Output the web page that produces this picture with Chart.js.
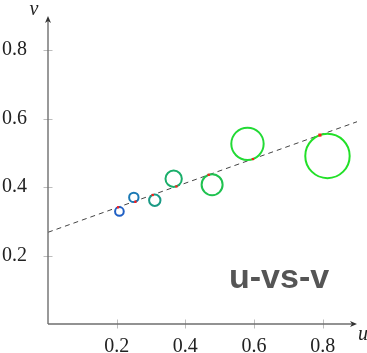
<!DOCTYPE html>
<html>
<head>
<meta charset="utf-8">
<script src="https://cdn.jsdelivr.net/npm/chart.js@4.4.1/dist/chart.umd.min.js"></script>
<style>
html,body{margin:0;padding:0;background:#fff;}
#wrap{width:367px;height:353px;position:relative;}
</style>
</head>
<body>
<div id="wrap"><canvas id="c" width="367" height="353"></canvas></div>
<script>
// Data
const uVals = [0.208, 0.250, 0.311, 0.366, 0.478, 0.581, 0.814];
const vVals = [0.329, 0.370, 0.3615, 0.4245, 0.407, 0.5265, 0.491];
// points on the dashed line nearest each sample (red dots)
const footU = [0.204, 0.2545, 0.305, 0.374, 0.468, 0.597, 0.792];
const footV = [0.341, 0.357, 0.377, 0.402, 0.436, 0.482, 0.552];
// dashed fitted line end points
const fitU = [0, 0.9];
const fitV = [0.268, 0.591];
const tickVals = [0.2, 0.4, 0.6, 0.8];
const circleColors = ['#1f5fc4','#1b79b4','#1a9a85','#1aae6a','#1fc24f','#22da35','#22e028'];
const axisNames = ['u', 'v'];
const tagText = 'u-vs-v';

const pts = uVals.map((u, i) => ({x: u, y: vVals[i]}));
const feet = footU.map((u, i) => ({x: u, y: footV[i]}));
const fit = fitU.map((u, i) => ({x: u, y: fitV[i]}));

function residualRadius(ctx) {
  const ch = ctx.chart, i = ctx.dataIndex;
  const xs = ch.scales.x, ys = ch.scales.y;
  if (!xs || !ys) return 3;
  const dx = xs.getPixelForValue(uVals[i]) - xs.getPixelForValue(footU[i]);
  const dy = ys.getPixelForValue(vVals[i]) - ys.getPixelForValue(footV[i]);
  return Math.hypot(dx, dy);
}

const serif = '"Liberation Serif", "DejaVu Serif", serif';

const axesPlugin = {
  id: 'axesPlugin',
  afterDatasetsDraw(chart) {
    const {ctx, scales: {x, y}} = chart;
    const x0 = x.getPixelForValue(0), y0 = y.getPixelForValue(0);
    const xEnd = x.getPixelForValue(x.max), yEnd = y.getPixelForValue(y.max);
    ctx.save();
    // tick marks
    ctx.strokeStyle = '#bdbdbd';
    ctx.lineWidth = 1;
    tickVals.forEach(t => {
      const px = Math.round(x.getPixelForValue(t)) + 0.5;
      ctx.beginPath(); ctx.moveTo(px, y0 - 4.5); ctx.lineTo(px, y0 + 4.5); ctx.stroke();
      const py = Math.round(y.getPixelForValue(t)) + 0.5;
      ctx.beginPath(); ctx.moveTo(x0 - 4.5, py); ctx.lineTo(x0 + 4.5, py); ctx.stroke();
    });
    // axis lines
    ctx.strokeStyle = '#6e6e6e';
    ctx.fillStyle = '#333';
    ctx.lineWidth = 1.4;
    ctx.beginPath(); ctx.moveTo(x0, y0); ctx.lineTo(xEnd - 3, y0); ctx.stroke();
    ctx.beginPath(); ctx.moveTo(x0, y0); ctx.lineTo(x0, yEnd + 3); ctx.stroke();
    // arrow heads
    ctx.beginPath();
    ctx.moveTo(xEnd, y0); ctx.lineTo(xEnd - 7, y0 - 3); ctx.lineTo(xEnd - 5, y0); ctx.lineTo(xEnd - 7, y0 + 3); ctx.closePath(); ctx.fill();
    ctx.beginPath();
    ctx.moveTo(x0, yEnd); ctx.lineTo(x0 - 3, yEnd + 7); ctx.lineTo(x0, yEnd + 5); ctx.lineTo(x0 + 3, yEnd + 7); ctx.closePath(); ctx.fill();
    // axis names
    ctx.fillStyle = '#222';
    ctx.font = 'italic 20px ' + serif;
    ctx.textAlign = 'left';
    ctx.textBaseline = 'alphabetic';
    ctx.fillText(axisNames[0], xEnd + 1, y0 + 16);
    ctx.textAlign = 'center';
    ctx.fillText(axisNames[1], x0 - 14, yEnd - 1);
    // tag
    ctx.fillStyle = '#555555';
    ctx.font = 'bold 34px "Liberation Sans", Arial, sans-serif';
    ctx.textAlign = 'left';
    ctx.fillText(tagText, 229, 288);
    ctx.restore();
  }
};

new Chart(document.getElementById('c'), {
  type: 'scatter',
  data: {
    datasets: [
      {
        label: 'foot',
        data: feet,
        pointRadius: ctx => ctx.dataIndex === 6 ? 2.2 : 1.6,
        pointStyle: 'rect',
        backgroundColor: '#ff1a1a',
        borderWidth: 0
      },
      {
        label: 'samples',
        data: pts,
        pointRadius: residualRadius,
        pointHoverRadius: residualRadius,
        backgroundColor: 'rgba(0,0,0,0)',
        borderColor: circleColors,
        borderWidth: 2
      },
      {
        label: 'fit',
        type: 'line',
        data: fit,
        showLine: true,
        borderColor: '#444',
        borderWidth: 1,
        borderDash: [5, 4],
        pointRadius: 0,
        fill: false
      }
    ]
  },
  options: {
    responsive: false,
    animation: false,
    events: [],
    layout: {padding: {top: 16, right: 10, left: 0, bottom: 0}},
    plugins: {legend: {display: false}, tooltip: {enabled: false}},
    scales: {
      x: {
        type: 'linear', min: 0, max: 0.9,
        grid: {display: false},
        border: {display: false},
        afterBuildTicks: s => { s.ticks = tickVals.map(v => ({value: v})); },
        afterFit: s => { s.height = 29; s.paddingLeft = 0; s.paddingRight = 0; },
        ticks: {
          padding: 3,
          color: '#222',
          font: {family: serif, size: 20},
          callback: v => v.toFixed(1)
        }
      },
      y: {
        type: 'linear', min: 0, max: 0.9,
        grid: {display: false},
        border: {display: false},
        afterBuildTicks: s => { s.ticks = tickVals.map(v => ({value: v})); },
        afterFit: s => { s.width = 48; s.paddingTop = 0; s.paddingBottom = 0; },
        ticks: {
          padding: 13,
          color: '#222',
          font: {family: serif, size: 20},
          callback: v => v.toFixed(1)
        }
      }
    }
  },
  plugins: [axesPlugin]
});
</script>
</body>
</html>
